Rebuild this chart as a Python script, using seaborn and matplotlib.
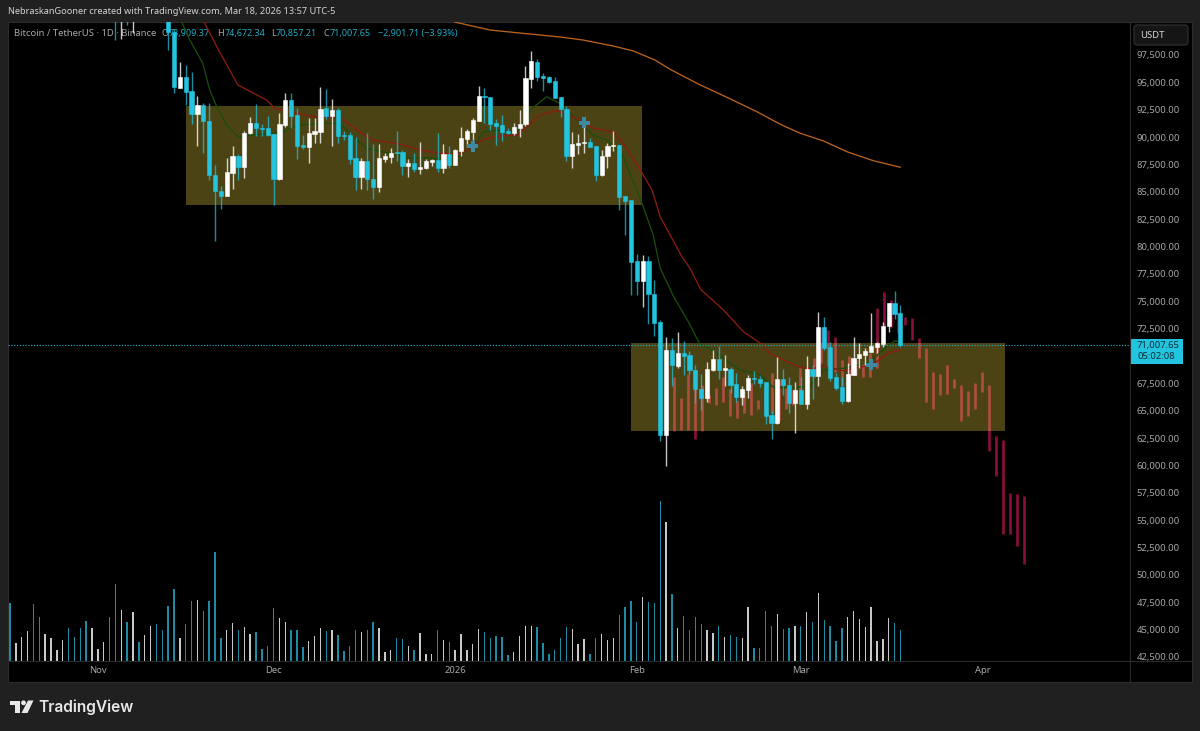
import numpy as np
import pandas as pd
import matplotlib
matplotlib.use("Agg")
import matplotlib.pyplot as plt
import seaborn as sns
from matplotlib.patches import Rectangle, Polygon, Ellipse, FancyBboxPatch
from matplotlib.transforms import IdentityTransform

# Daily candles in thousands of USDT, first one is day 18 (day 0 = Oct 17 2025)
first_day = 18
opens = [
    107.0, 105.0, 106.0, 105.0, 106.0, 105.5, 104.5, 105.5, 105.0, 104.0,
    99.63, 94.51, 95.52, 94.21, 92.11, 92.90, 91.50, 86.54, 85.07, 84.59,
    86.72, 88.27, 87.24, 90.37, 91.29, 90.83, 90.80, 90.28, 86.17, 91.10,
    93.39, 92.02, 89.27, 89.09, 90.28, 90.49, 92.63, 91.90, 92.47, 90.19,
    90.19, 88.09, 86.35, 87.79, 86.17, 85.41, 88.03, 88.21, 88.64, 88.61,
    87.36, 87.63, 87.08, 87.20, 87.73, 87.91, 87.17, 88.45, 87.48, 88.73,
    89.82, 90.49, 91.44, 93.75, 93.69, 91.26, 91.07, 90.58, 90.35, 90.86,
    91.17, 95.31, 96.89, 95.58, 95.52, 95.09, 93.63, 92.59, 88.30, 89.30,
    89.46, 89.55, 89.18, 86.54, 88.24, 89.18, 89.25, 84.62, 84.22, 78.68,
    76.85, 78.68, 75.69, 73.08, 62.78, 70.55, 69.11, 70.25, 70.09, 68.75,
    66.98, 66.16, 68.69, 69.72, 68.72, 68.84, 67.44, 66.28, 66.87, 67.99,
    67.90, 67.59, 64.61, 63.90, 67.90, 67.35, 65.70, 66.89, 65.61, 68.78,
    68.17, 72.65, 70.79, 68.05, 67.16, 65.86, 68.26, 69.79, 70.09, 70.36,
    70.85, 71.10, 72.74, 74.81, 73.91,
]
closes = [
    105.0, 106.0, 105.0, 106.0, 105.5, 104.5, 105.5, 105.0, 104.0, 99.63,
    94.55, 95.52, 94.15, 92.11, 92.90, 91.50, 86.51, 85.04, 84.59, 86.78,
    88.24, 87.24, 90.40, 91.29, 90.80, 90.74, 90.22, 86.17, 91.19, 93.39,
    91.95, 89.21, 89.09, 90.35, 90.56, 92.59, 91.93, 92.47, 90.13, 90.10,
    88.02, 86.35, 87.79, 86.14, 85.41, 88.06, 88.30, 88.57, 88.55, 87.36,
    87.63, 87.06, 87.27, 87.81, 87.91, 87.17, 88.45, 87.48, 88.82, 89.92,
    90.56, 91.53, 93.78, 93.63, 91.22, 91.01, 90.49, 90.35, 90.92, 91.22,
    95.40, 96.92, 95.49, 95.40, 95.00, 93.57, 92.57, 88.30, 89.40, 89.49,
    89.55, 89.12, 86.54, 88.30, 89.18, 89.27, 84.52, 84.13, 78.61, 76.85,
    78.68, 75.63, 73.01, 62.78, 70.55, 69.15, 70.25, 70.03, 68.72, 66.96,
    66.16, 68.78, 69.72, 68.72, 68.90, 67.35, 66.28, 66.95, 67.96, 67.90,
    67.53, 64.54, 63.90, 67.90, 67.32, 65.73, 66.86, 65.61, 68.78, 68.17,
    72.65, 70.70, 67.99, 67.07, 65.86, 68.32, 69.84, 70.18, 70.45, 70.88,
    71.16, 72.77, 74.81, 73.83, 71.01,
]
highs = [
    108.0, 107.0, 107.0, 107.0, 107.0, 106.0, 106.0, 106.0, 105.5, 104.5,
    99.90, 96.83, 96.59, 95.95, 93.75, 93.11, 93.09, 87.45, 85.53, 88.06,
    89.18, 88.45, 90.58, 91.86, 93.02, 91.19, 91.93, 90.28, 92.23, 94.05,
    94.05, 92.68, 90.19, 91.77, 91.77, 94.55, 94.42, 93.48, 92.68, 90.58,
    90.44, 89.98, 88.09, 90.35, 89.40, 89.37, 88.52, 89.03, 90.58, 88.82,
    88.00, 88.52, 89.55, 87.97, 88.02, 90.35, 89.34, 89.18, 88.91, 90.89,
    90.71, 91.71, 94.70, 94.46, 93.69, 91.65, 92.02, 90.80, 91.26, 92.47,
    96.47, 97.87, 97.13, 95.85, 95.61, 95.46, 93.63, 92.84, 90.49, 90.28,
    91.10, 89.94, 89.18, 88.82, 89.49, 90.58, 89.27, 84.62, 84.22, 79.32,
    79.27, 79.13, 76.94, 73.29, 71.70, 71.61, 72.19, 71.37, 70.45, 69.17,
    68.35, 69.42, 70.52, 70.94, 70.09, 68.97, 68.42, 67.26, 68.26, 68.63,
    68.17, 67.65, 64.97, 69.93, 68.78, 68.11, 67.65, 68.11, 69.99, 69.17,
    73.99, 73.53, 71.28, 68.47, 68.05, 69.39, 71.70, 71.21, 70.70, 73.90,
    71.30, 73.13, 74.87, 75.93, 74.67,
]
lows = [
    98.87, 98.99, 100.24, 99.48, 103.0, 103.0, 103.0, 103.0, 103.0, 97.96,
    94.00, 94.51, 92.93, 91.17, 89.21, 88.55, 86.08, 80.53, 83.43, 84.59,
    85.26, 86.08, 86.29, 90.25, 90.13, 90.13, 90.13, 83.79, 86.08, 90.95,
    90.86, 88.02, 88.91, 87.66, 89.49, 89.49, 91.62, 89.21, 89.43, 89.73,
    87.51, 85.14, 85.26, 85.17, 84.37, 85.01, 87.75, 87.60, 87.84, 86.54,
    86.32, 86.84, 86.63, 87.11, 87.36, 86.78, 86.75, 87.20, 87.42, 88.30,
    89.12, 89.73, 91.44, 91.26, 90.65, 89.25, 89.64, 90.28, 90.19, 90.03,
    91.04, 94.51, 95.10, 94.21, 94.91, 93.54, 91.86, 87.84, 87.17, 88.45,
    88.52, 89.12, 86.01, 86.44, 87.17, 88.73, 83.33, 81.08, 75.60, 75.57,
    74.50, 72.92, 71.85, 62.23, 59.95, 67.26, 68.87, 68.26, 68.35, 65.73,
    65.06, 65.82, 68.65, 67.90, 67.26, 66.59, 65.82, 65.52, 66.19, 67.44,
    67.14, 63.78, 62.44, 63.78, 66.43, 64.82, 62.99, 65.61, 65.18, 66.10,
    67.26, 70.55, 67.71, 66.89, 65.61, 65.77, 68.26, 68.90, 69.17, 70.36,
    70.24, 70.79, 72.22, 73.38, 70.86,
]

# Volume, arbitrary units, day 0 to 152; c = down day, w = up day
volumes = [
    173, 53, 72, 89, 170, 132, 82, 70, 32, 63, 98, 72, 99, 120, 99, 37, 58, 132, 231, 153,
    118, 147, 57, 78, 106, 111, 94, 165, 216, 70, 111, 180, 182, 149, 180, 327, 68, 92, 113, 92,
    101, 80, 87, 36, 46, 159, 129, 118, 92, 92, 41, 60, 75, 99, 90, 92, 77, 29, 46, 92,
    87, 92, 118, 99, 27, 34, 70, 66, 44, 34, 84, 22, 22, 92, 63, 56, 32, 82, 34, 51,
    96, 86, 68, 75, 72, 17, 27, 75, 106, 106, 101, 53, 22, 34, 68, 101, 96, 51, 65, 22,
    68, 82, 63, 68, 139, 161, 180, 118, 192, 178, 175, 480, 416, 201, 99, 135, 94, 132, 111, 94,
    84, 104, 72, 77, 72, 68, 161, 39, 39, 151, 106, 142, 96, 99, 104, 106, 147, 116, 204, 123,
    104, 60, 99, 132, 149, 125, 101, 163, 60, 65, 130, 113, 92,
]
volume_sides = list(
    "cwwwccwwww" "ccccwwwccw" "cwcwwccccw" "ccwccccwwc" "wwccccwwcc"
    "cwwwcwcccc" "wccwwwccwc" "wwwcwcwwww" "wcccccwwww" "ccccccwwwc"
    "cwwwccccwc" "ccwcwccccw" "wcwccwwccc" "cwccwcwcwc" "cccwwwwwww" "wcc"
)

# Moving averages, sampled at the days where they were read
ma_red_days = [32, 33.1, 35.3, 38.9, 43.8, 45.2, 48.3, 52.4, 55.1, 56.9, 59.2, 62, 66, 70, 73.4, 76.8, 78.8, 80.8, 83.7,
               86.7, 90.5, 93.1, 95.6, 99.5, 103, 104.7, 107.9, 109.6, 111, 114.7, 116.1, 117.9, 121.8, 125.2, 128.1,
               130, 134.9, 137.1, 138.3, 142.2, 145.4, 148, 149.9, 152]
ma_red = [102.07, 100.54, 98.26, 94.76, 93.39, 92.63, 92.23, 91.81, 91.86, 91.56, 90.65, 89.73, 89.43, 88.82, 88.52,
          88.45, 89.12, 89.82, 90.10, 90.19, 92.02, 92.41, 92.02, 90.83, 90.46, 89.46, 86.72, 85.17, 82.72, 79.07,
          78.01, 76.09, 74.20, 72.22, 71.16, 70.09, 68.97, 68.78, 69.17, 68.65, 68.99, 69.48, 70.27, 70.55]
ma_green_days = [28.2, 29.3, 30.7, 32.9, 34.1, 35.3, 37, 39, 46.6, 49, 55.1, 56.9, 58.6, 60.9, 68.3, 71.7, 75.6, 77.1, 79.7,
                 80.8, 83.7, 86.5, 88.8, 91.6, 94.4, 96.8, 99.5, 101.9, 104.7, 108, 109.8, 111, 113.3, 115.8, 117.7,
                 120.7, 124.6, 128, 130.3, 133.2, 136.6, 138.8, 142.6, 146.8, 149, 151, 152]
ma_green = [102.07, 100.54, 98.87, 96.74, 94.30, 92.77, 91.10, 90.03, 90.49, 91.10, 91.29, 90.95, 90.03, 88.97, 88.09,
            88.09, 87.90, 88.42, 89.58, 90.49, 90.65, 90.37, 92.47, 93.69, 92.93, 91.56, 90.19, 89.73, 88.21, 83.79,
            81.05, 78.01, 75.42, 73.13, 71.16, 70.24, 68.72, 68.26, 67.16, 67.07, 67.26, 68.72, 68.90, 69.45, 70.55,
            71.37, 71.30]
ma_orange_days = [73, 76, 82, 87, 94, 97.8, 103, 106.4, 110.1, 112.7, 117.5, 122.4, 127.5, 131.5, 134.9, 138.9, 142.9, 147.4, 152]
ma_orange = [101.15, 100.50, 99.78, 99.51, 99.14, 98.87, 98.32, 97.87, 97.04, 96.19, 94.85, 93.63, 92.32, 91.17, 90.35,
             89.64, 88.66, 87.84, 87.24]

# Projected bars pasted from an older move: high/low per bar
proj_start = 113.3
proj_step = 1.196
proj_highs = [68.05, 66.13, 68.35, 67.87, 67.35, 66.43, 67.10, 68.11, 66.95, 65.91, 66.83, 67.50, 65.98, 66.89, 68.42, 67.80, 67.19,
              66.89, 68.90, 67.80, 69.81, 72.68, 72.37, 71.70, 69.63, 69.99, 69.63, 69.48, 70.24, 74.38, 75.84, 75.11, 73.90, 73.59,
              73.44, 71.61, 70.76, 68.54, 68.33, 69.17, 67.90, 67.32, 66.80, 67.53, 68.54, 67.32, 62.72, 62.30, 57.45, 57.39, 57.23]
proj_lows = [63.17, 63.24, 63.24, 62.44, 63.17, 65.73, 65.52, 65.82, 64.54, 64.29, 64.82, 64.61, 65.18, 65.06, 64.76, 64.15, 65.18,
             65.52, 65.61, 65.70, 68.08, 69.39, 69.02, 68.56, 67.26, 68.11, 68.26, 68.11, 68.05, 68.90, 71.16, 72.68, 72.13, 72.83,
             71.46, 69.81, 65.79, 65.18, 66.43, 66.53, 67.10, 64.03, 64.49, 65.18, 66.71, 61.32, 59.06, 53.73, 53.73, 52.66, 50.99]

# Zones: (first day, last day, top, bottom)
zone_days_left = [30.0, 106.0]
zone_days_right = [107.9, 169.9]
zone_tops = [92.87, 71.16]
zone_bottoms = [83.80, 63.17]

# Cross markers
cross_days = [79, 98, 147]
cross_prices = [89.18, 91.31, 69.20]

last_price = 71.00765
price_ticks = [97.5, 95, 92.5, 90, 87.5, 85, 82.5, 80, 77.5, 75, 72.5, 67.5, 65, 62.5, 60, 57.5, 55, 52.5, 50, 47.5, 45, 42.5]
month_days = [15, 45, 76, 107, 135, 166]
month_labels = ["Nov", "Dec", "2026", "Feb", "Mar", "Apr"]

BG = "#202020"
CYAN = "#22c4e0"
WHITE = "#ffffff"
LABEL = "#a8a8a8"

sns.set_theme(style="dark")
plt.rcParams["font.family"] = ["Noto Sans", "DejaVu Sans"]
plt.rcParams["axes.unicode_minus"] = False

fig = plt.figure(figsize=(12, 7.31), dpi=100, facecolor=BG)
pix = IdentityTransform()


def Y(y):
    return 731 - y


# black panel and separators
fig.add_artist(Rectangle((8, Y(682)), 1184, 660, transform=pix, facecolor="black", edgecolor="#2c2c2c", lw=0.8, zorder=-2))

vol_ax = fig.add_axes([8 / 1200, 70 / 731, 1122 / 1200, 639 / 731], facecolor="none")
ax = fig.add_axes([8 / 1200, 70 / 731, 1122 / 1200, 639 / 731], facecolor="none")
x_range = (-0.341, 191.2)
y_range = (42.13, 100.515)

# volume
vol_df = pd.DataFrame({"day": np.arange(len(volumes)), "volume": volumes, "side": volume_sides})
sns.barplot(data=vol_df, x="day", y="volume", hue="side", native_scale=True, dodge=False, width=0.24,
            palette={"c": "#1c8ba3", "w": "#c8c8c8"}, errorbar=None, legend=False, ax=vol_ax,
            linewidth=0, edgecolor="none", saturation=1)
vol_ax.set_xlim(x_range)
vol_ax.set_ylim(0, 1917)
vol_ax.axis("off")

# projected bars, under the zones so they pick up the tint
proj_x = proj_start + proj_step * np.arange(len(proj_highs))
ax.vlines(proj_x, proj_lows, proj_highs, color="#8b0f3d", lw=1.9, zorder=1)

# zones
for left, right, top, bottom in zip(zone_days_left, zone_days_right, zone_tops, zone_bottoms):
    ax.add_patch(Rectangle((left, bottom), right - left, top - bottom, facecolor="#ffe146", alpha=0.3, edgecolor="none", zorder=2))

# legend text sits under the candles
legend_bits = [
    (14, "Bitcoin / TetherUS · 1D · Binance", LABEL, 6.8),
    (162, "O", LABEL, 6.5), (169, "73,909.37", "#25a9c2", 6.5),
    (216.7, "H", LABEL, 6.5), (224.3, "74,672.34", "#25a9c2", 6.5),
    (271, "L", LABEL, 6.5), (275.7, "70,857.21", "#25a9c2", 6.5),
    (323.7, "C", LABEL, 6.5), (330, "71,007.65", "#25a9c2", 6.5),
    (377.7, "\u22122,901.71 (\u22123.93%)", "#25a9c2", 6.5),
]
for x_pos, txt, col, size in legend_bits:
    ax.text(x_pos, Y(33.5), txt, transform=pix, color=col, fontsize=size, va="center", ha="left", zorder=2.5, clip_on=False)

# moving averages
sns.lineplot(x=ma_green_days, y=ma_green, color="#1a4d0b", lw=0.95, ax=ax, zorder=3, errorbar=None, estimator=None)
sns.lineplot(x=ma_red_days, y=ma_red, color="#8c1b12", lw=0.95, ax=ax, zorder=3, errorbar=None, estimator=None)
sns.lineplot(x=ma_orange_days, y=ma_orange, color="#b9621c", lw=0.95, ax=ax, zorder=3, errorbar=None, estimator=None)

# candles
days = first_day + np.arange(len(opens))
o, c, h, l = map(np.array, (opens, closes, highs, lows))
up = c >= o
ax.vlines(days[up], l[up], h[up], color=WHITE, alpha=0.78, lw=1.0, zorder=4)
ax.vlines(days[~up], l[~up], h[~up], color=CYAN, alpha=0.72, lw=1.0, zorder=4)
ax.bar(days[up], (c - o)[up], bottom=o[up], width=0.72, color=WHITE, edgecolor=WHITE, lw=0.4, zorder=5)
ax.bar(days[~up], (o - c)[~up], bottom=c[~up], width=0.72, color=CYAN, edgecolor=CYAN, lw=0.4, zorder=5)

# crosses
sns.scatterplot(x=cross_days, y=cross_prices, marker="P", s=62, color="#3f8aa3", edgecolor="none", ax=ax, zorder=6)

# last price line
ax.axhline(last_price, color="#23a9c2", ls=(0, (1, 1.4)), lw=0.85, zorder=3.5)

ax.set_xlim(x_range)
ax.set_ylim(y_range)
ax.grid(False)
for spine in ax.spines.values():
    spine.set_visible(False)
ax.yaxis.tick_right()
ax.set_yticks(price_ticks)
ax.set_yticklabels([f"{v * 1000:,.2f}" for v in price_ticks])
ax.set_xticks(month_days)
ax.set_xticklabels(month_labels)
ax.tick_params(axis="y", length=0, pad=4.8, labelsize=6.8, labelcolor=LABEL)
ax.tick_params(axis="x", length=0, pad=3.8, labelsize=6.8, labelcolor=LABEL)
ax.set_xlabel("")
ax.set_ylabel("")

# separators around the axes
fig.add_artist(plt.Line2D([1130, 1130], [Y(22), Y(682)], transform=pix, color="#2a2a2a", lw=0.8))
fig.add_artist(plt.Line2D([8, 1192], [Y(661), Y(661)], transform=pix, color="#2a2a2a", lw=0.8))

# USDT button
fig.add_artist(FancyBboxPatch((1134, Y(45)), 54, 20, boxstyle="round,pad=0,rounding_size=3", transform=pix,
                              facecolor="#151515", edgecolor="#333333", lw=0.8))
fig.text(1140, Y(35.5), "USDT", transform=pix, color="#d6d6d6", fontsize=6.8, va="center", ha="left")

# last price tag
fig.add_artist(Rectangle((1130, Y(363.7)), 53, 24.7, transform=pix, facecolor=CYAN, edgecolor="none"))
fig.text(1137, Y(345.5), "71,007.65", transform=pix, color="#0d2b34", fontsize=6.8, va="center", ha="left")
fig.text(1137, Y(356.5), "05:02:08", transform=pix, color="#0d2b34", fontsize=6.8, va="center", ha="left")

# header
fig.text(8, Y(11.5), "NebraskanGooner created with TradingView.com, Mar 18, 2026 13:57 UTC-5", transform=pix,
         color="#d4d4d4", fontsize=6.6, va="center", ha="left")

# footer logo
logo_col = "#e8e8e8"
fig.add_artist(Polygon([(9.5, Y(700.5)), (20, Y(700.5)), (20, Y(713)), (14.5, Y(713)), (14.5, Y(705)), (9.5, Y(705))],
                       transform=pix, facecolor=logo_col, edgecolor="none"))
fig.add_artist(Ellipse((23.5, Y(702.8)), 4.8, 4.8, transform=pix, facecolor=logo_col, edgecolor="none"))
fig.add_artist(Polygon([(28, Y(700.5)), (33.5, Y(700.5)), (27.5, Y(713)), (21.5, Y(713))],
                       transform=pix, facecolor=logo_col, edgecolor="none"))
fig.text(38.5, Y(707), "TradingView", transform=pix, color=logo_col, fontsize=11.2, fontweight="semibold",
         family=["Inter", "DejaVu Sans"], va="center", ha="left")

fig.savefig("out.png", dpi=100, facecolor=BG)
